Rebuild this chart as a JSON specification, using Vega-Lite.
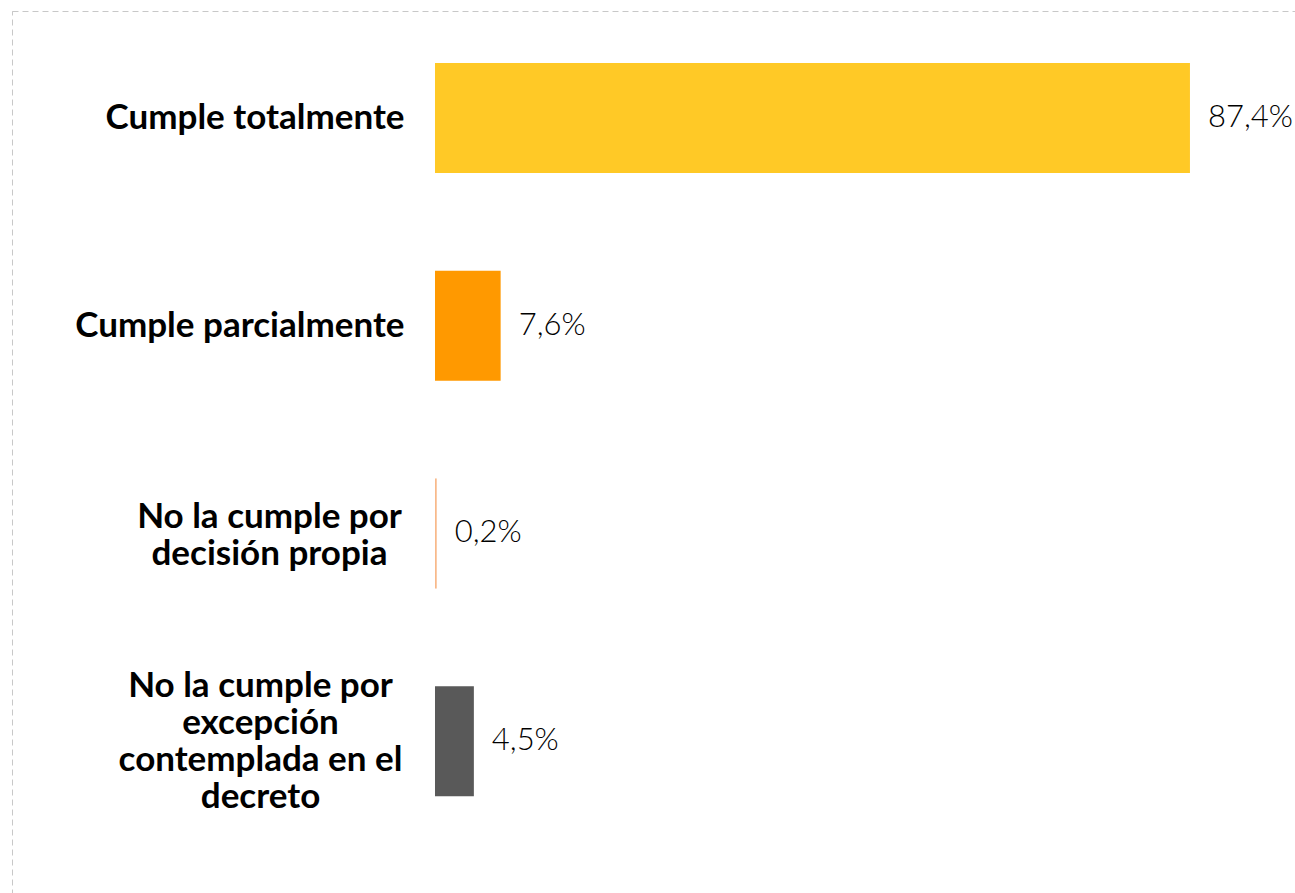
{
  "$schema": "https://vega.github.io/schema/vega-lite/v6.json",
  "autosize": {"type": "none"},
  "padding": {"left": 12, "top": 11, "right": -5, "bottom": -7},
  "width": 1288,
  "height": 889,
  "background": "#ffffff",
  "config": {
    "view": {"stroke": "#c8c8c8", "strokeDash": [6, 4], "strokeWidth": 1}
  },
  "data": {
    "values": [
      {"categoria": "Cumple totalmente", "valor": 87.4, "color": "#FFC926"},
      {"categoria": "Cumple parcialmente", "valor": 7.6, "color": "#FF9900"},
      {"categoria": "No la cumple por|decisión propia", "valor": 0.2, "color": "#F8B98A"},
      {"categoria": "No la cumple por|excepción|contemplada en el|decreto", "valor": 4.5, "color": "#595959"}
    ]
  },
  "transform": [
    {"calculate": "replace(format(datum.valor, '.1f'), '.', ',') + '%'", "as": "etiqueta"}
  ],
  "encoding": {
    "y": {
      "field": "categoria",
      "type": "nominal",
      "sort": null,
      "scale": {"paddingInner": 0.47, "paddingOuter": 0.375, "align": 0.334},
      "axis": {
        "title": null,
        "orient": "left",
        "offset": -423,
        "domain": false,
        "ticks": false,
        "labelFont": "Lato",
        "labelFontWeight": "bold",
        "labelFontSize": 35,
        "labelColor": "#000000",
        "labelLineHeight": 37,
        "labelLimit": 0,
        "labelOverlap": false,
        "labelBaseline": "middle",
        "labelExpr": "split(datum.value, '|')",
        "labelAlign": {
          "condition": {"test": "indexof(datum.value, '|') >= 0", "value": "center"},
          "value": "right"
        },
        "labelPadding": {
          "condition": [
            {"test": "indexof(datum.value, 'decisi') >= 0", "value": 166},
            {"test": "indexof(datum.value, 'decreto') >= 0", "value": 175}
          ],
          "value": 31
        },
        "labelOffset": {
          "condition": [
            {"test": "indexof(datum.value, 'decisi') >= 0", "value": -16},
            {"test": "indexof(datum.value, 'decreto') >= 0", "value": -55}
          ],
          "value": 0
        }
      }
    }
  },
  "layer": [
    {
      "mark": {"type": "bar"},
      "encoding": {
        "x": {
          "field": "valor",
          "type": "quantitative",
          "scale": {"domain": [-48.97, 100.14], "zero": false, "nice": false},
          "axis": null
        },
        "x2": {"datum": 0},
        "color": {"field": "color", "type": "nominal", "scale": null, "legend": null}
      }
    },
    {
      "mark": {"type": "text", "align": "left", "baseline": "middle", "dx": 18, "font": "Lato", "fontWeight": 300, "fontSize": 31, "color": "#000000"},
      "encoding": {
        "x": {"field": "valor", "type": "quantitative"},
        "text": {"field": "etiqueta", "type": "nominal"}
      }
    }
  ]
}
